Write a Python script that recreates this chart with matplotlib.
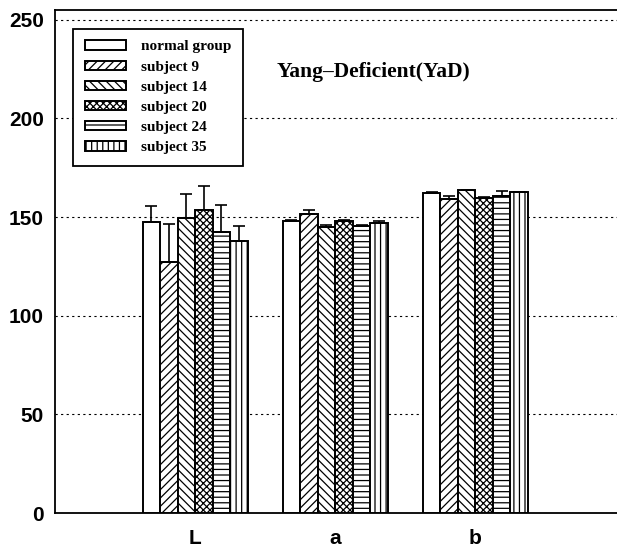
import matplotlib
matplotlib.use("Agg")
import matplotlib.pyplot as plt
import numpy as np

categories = ["L", "a", "b"]
series = ["normal group", "subject 9", "subject 14", "subject 20", "subject 24", "subject 35"]
values = {
    "normal group": [147.5, 148.0, 162.4],
    "subject 9":    [127.3, 151.8, 159.3],
    "subject 14":   [149.6, 145.0, 163.6],
    "subject 20":   [153.8, 148.0, 159.6],
    "subject 24":   [142.2, 145.5, 160.7],
    "subject 35":   [137.9, 147.2, 162.5],
}
errors = {
    "normal group": [8.3, 0.5, 0.3],
    "subject 9":    [19.3, 2.0, 1.4],
    "subject 14":   [12.2, 1.0, 0.3],
    "subject 20":   [12.1, 0.6, 0.6],
    "subject 24":   [13.8, 0.5, 2.6],
    "subject 35":   [7.7, 0.6, 0.3],
}
hatches = ["", "////", "\\\\\\\\", "xxxxx", "---", "|||"]
yticks = [0, 50, 100, 150, 200, 250]

plt.rcParams['hatch.linewidth'] = 0.9
fig = plt.figure(figsize=(6.17, 5.47), dpi=100)
ax = fig.add_axes([0.089, 0.062, 0.911, 0.920])

x = np.arange(1, len(categories) + 1)
w = 0.125
n = len(series)
for i, s in enumerate(series):
    pos = x + (i - (n - 1) / 2) * w
    ax.bar(pos, values[s], width=w, color="white", edgecolor="black",
           hatch=hatches[i], linewidth=1.4, label=s, zorder=3)
    ax.errorbar(pos, values[s], yerr=[np.zeros(len(categories)), errors[s]],
                fmt="none", ecolor="black", elinewidth=1.2, capsize=4,
                capthick=1.2, zorder=4)

ax.set_xlim(0, 4.01)
ax.set_ylim(0, 255)
ax.set_yticks(yticks)
ax.set_xticks(x)
ax.set_xticklabels(categories)
ax.tick_params(axis="y", length=0, labelsize=15, pad=8)
ax.tick_params(axis="x", length=0, labelsize=15, pad=11.5)
for lab in ax.get_xticklabels() + ax.get_yticklabels():
    lab.set_family("Liberation Sans")
    lab.set_fontweight("bold")
ax.yaxis.grid(True, linestyle=(0, (2, 3)), color="black", linewidth=0.8, zorder=0)
ax.set_axisbelow(True)
for sp in ax.spines.values():
    sp.set_linewidth(1.3)
ax.spines["right"].set_visible(False)

leg = ax.legend(loc="upper left", bbox_to_anchor=(0.033, 0.962), frameon=True,
                fancybox=False, edgecolor="black", framealpha=1,
                prop={"family": "Liberation Serif", "weight": "bold", "size": 11},
                handlelength=2.7, handleheight=0.55, labelspacing=0.47,
                handletextpad=1.0, borderpad=0.75, borderaxespad=0)
leg.get_frame().set_linewidth(1.3)

ax.text(0.566, 0.877, "Yang\u2013Deficient(YaD)", transform=ax.transAxes,
        ha="center", va="center", family="Liberation Serif", weight="bold",
        fontsize=15.5)

fig.savefig("out.png", dpi=100)
